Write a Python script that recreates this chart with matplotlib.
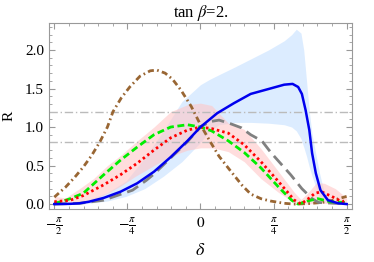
"""R versus delta for tan beta = 2."""
import numpy as np
from matplotlib import pyplot as plt
from matplotlib.ticker import MultipleLocator

plt.rcParams["font.family"] = ["Liberation Serif", "DejaVu Serif"]
plt.rcParams["mathtext.fontset"] = "stix"

# solid blue
blue_d = [-1.571, -1.4, -1.3, -1.2, -1.04, -0.86, -0.68, -0.5, -0.32, -0.14, 0.0,
          0.18, 0.36, 0.54, 0.75, 0.9, 0.99, 1.05, 1.09, 1.13, 1.17, 1.2, 1.24,
          1.29, 1.37, 1.48, 1.571]
blue_r = [0.0, 0.003, 0.01, 0.03, 0.08, 0.16, 0.27, 0.42, 0.61, 0.82, 1.0,
          1.18, 1.31, 1.43, 1.5, 1.55, 1.56, 1.52, 1.43, 1.22, 0.96, 0.66, 0.40,
          0.18, 0.05, 0.01, 0.0]

# green dashed
green_d = [-1.571, -1.5, -1.4, -1.26, -1.04, -0.86, -0.68, -0.5, -0.32, -0.14,
           0.0, 0.12, 0.3, 0.47, 0.65, 0.84, 0.98, 1.05, 1.15, 1.26, 1.4, 1.571]
green_r = [0.01, 0.03, 0.07, 0.14, 0.38, 0.57, 0.74, 0.90, 1.0, 1.03,
           1.0, 0.95, 0.82, 0.67, 0.47, 0.22, 0.05, 0.0, 0.04, 0.07, 0.03, 0.02]

# red dotted
red_d = [-1.571, -1.4, -1.26, -1.04, -0.86, -0.68, -0.5, -0.32, -0.14, 0.0,
         0.12, 0.3, 0.47, 0.65, 0.84, 1.01, 1.08, 1.16, 1.23, 1.30, 1.41, 1.52,
         1.571]
red_r = [0.03, 0.05, 0.11, 0.25, 0.38, 0.53, 0.70, 0.86, 0.96, 1.0,
         0.98, 0.92, 0.77, 0.55, 0.29, 0.05, 0.0, 0.07, 0.14, 0.16, 0.10, 0.03,
         0.05]

# gray long dashes
gray_d = [-1.571, -1.3, -1.04, -0.97, -0.73, -0.58, -0.5, -0.32, -0.14, 0.0,
          0.1, 0.2, 0.33, 0.44, 0.54, 0.66, 0.75, 0.80, 0.97, 1.09, 1.2, 1.27,
          1.45, 1.571]
gray_r = [0.0, 0.01, 0.05, 0.08, 0.18, 0.31, 0.39, 0.60, 0.81, 1.0,
          1.07, 1.09, 1.04, 0.99, 0.90, 0.82, 0.68, 0.61, 0.38, 0.20, 0.07, 0.02,
          0.01, 0.01]

# brown dot-dashed
brown_d = [-1.571, -1.45, -1.35, -1.26, -1.17, -1.08, -1.0, -0.94, -0.85, -0.76,
           -0.65, -0.54, -0.47, -0.38, -0.3, -0.21, -0.1, 0.0, 0.1, 0.2, 0.33,
           0.45, 0.54, 0.65, 0.75, 0.9, 1.0, 1.15, 1.3, 1.43, 1.571]
brown_r = [0.09, 0.22, 0.35, 0.48, 0.63, 0.81, 1.0, 1.2, 1.38, 1.52,
           1.66, 1.73, 1.74, 1.70, 1.62, 1.48, 1.27, 1.03, 0.82, 0.62, 0.42,
           0.24, 0.13, 0.07, 0.04, 0.01, 0.0, 0.005, 0.02, 0.05, 0.1]

# pink band around the red curve
pink_d = [-1.571, -1.45, -1.3, -1.15, -1.0, -0.85, -0.7, -0.5, -0.32, -0.14, 0.0,
          0.12, 0.2, 0.3, 0.47, 0.65, 0.84, 1.01, 1.08, 1.15, 1.25, 1.33, 1.45,
          1.571]
pink_hi = [0.1, 0.08, 0.2, 0.33, 0.5, 0.64, 0.8, 1.0, 1.2, 1.29, 1.31,
           1.28, 1.18, 1.05, 0.97, 0.72, 0.42, 0.15, 0.06, 0.14, 0.28, 0.27, 0.2,
           0.08]
pink_lo = [0.0, 0.0, 0.02, 0.06, 0.14, 0.24, 0.36, 0.5, 0.62, 0.70, 0.73,
           0.73, 0.71, 0.68, 0.55, 0.33, 0.15, 0.02, 0.0, 0.0, 0.01, 0.01, 0.0,
           0.0]

# light blue band around the blue curve
band_d = [-1.571, -1.3, -1.2, -1.0, -0.8, -0.6, -0.4, -0.2, 0.0, 0.1, 0.2, 0.37,
          0.55, 0.73, 0.9, 0.98, 1.03, 1.08, 1.11, 1.14, 1.17, 1.2, 1.24, 1.28,
          1.32, 1.38, 1.45, 1.571]
band_hi = [0.0, 0.02, 0.06, 0.15, 0.3, 0.6, 0.95, 1.33, 1.55, 1.62, 1.68, 1.78,
           1.89, 2.0, 2.12, 2.2, 2.27, 2.22, 2.0, 1.6, 1.2, 0.9, 0.65, 0.4,
           0.2, 0.07, 0.02, 0.0]
band_lo = [0.0, 0.0, 0.01, 0.04, 0.1, 0.2, 0.36, 0.55, 0.8, 0.95, 1.03, 1.06,
           1.06, 1.05, 1.03, 1.0, 0.95, 0.85, 0.74, 0.62, 0.48, 0.36, 0.22, 0.1,
           0.04, 0.01, 0.0, 0.0]

ref_levels = [0.8, 1.2]

x_ticks = [-np.pi / 2, -np.pi / 4, 0, np.pi / 4, np.pi / 2]
x_labels = [r"$-\frac{\pi}{2}$", r"$-\frac{\pi}{4}$", r"$0$",
            r"$\frac{\pi}{4}$", r"$\frac{\pi}{2}$"]

fig = plt.figure(figsize=(3.74, 2.62), dpi=100)
ax = fig.add_axes([0.131, 0.202, 0.81, 0.71])

ax.fill_between(band_d, band_lo, band_hi, color=(0.55, 0.76, 1.0), alpha=0.3, lw=0)
ax.fill_between(pink_d, pink_lo, pink_hi, color=(1.0, 0.78, 0.78), alpha=0.6, lw=0)

for lvl in ref_levels:
    ax.axhline(lvl, color="#bbbbbb", lw=1, dashes=(6, 2, 1, 2))

ax.plot(brown_d, brown_r, color="#996633", lw=2, dashes=(2.2, 1.2, 0.6, 1.2))
ax.plot(gray_d, gray_r, color="#808080", lw=2, dashes=(4.5, 2.2))
ax.plot(green_d, green_r, color="#00ee00", lw=2, dashes=(2.5, 1.3))
ax.plot(red_d, red_r, color="#ff0000", lw=2, dashes=(0.9, 1.1))
ax.plot(blue_d, blue_r, color="#0000ee", lw=1.8)

ax.set_xlim(-1.628, 1.628)
ax.set_ylim(-0.065, 2.35)
ax.set_xticks(x_ticks)
ax.set_xticklabels(x_labels, fontsize=11)
ax.set_yticks([0.0, 0.5, 1.0, 1.5, 2.0])
ax.set_yticklabels(["0.0", "0.5", "1.0", "1.5", "2.0"], fontsize=11)
ax.yaxis.set_minor_locator(MultipleLocator(0.1))
ax.xaxis.set_minor_locator(MultipleLocator(np.pi / 20))
ax.tick_params(which="both", direction="in", top=True, right=True,
               color="#999999")
ax.tick_params(which="major", length=4)
ax.tick_params(axis="x", which="major", pad=5)
ax.tick_params(which="minor", length=2)
for sp in ax.spines.values():
    sp.set_color("#999999")

ax.set_title(r"tan $\beta$=2.", fontsize=12, pad=4)
ax.set_ylabel("R", fontsize=11, labelpad=7)
ax.set_xlabel(r"$\delta$", fontsize=13, labelpad=4)

fig.savefig("out.png", dpi=100)
